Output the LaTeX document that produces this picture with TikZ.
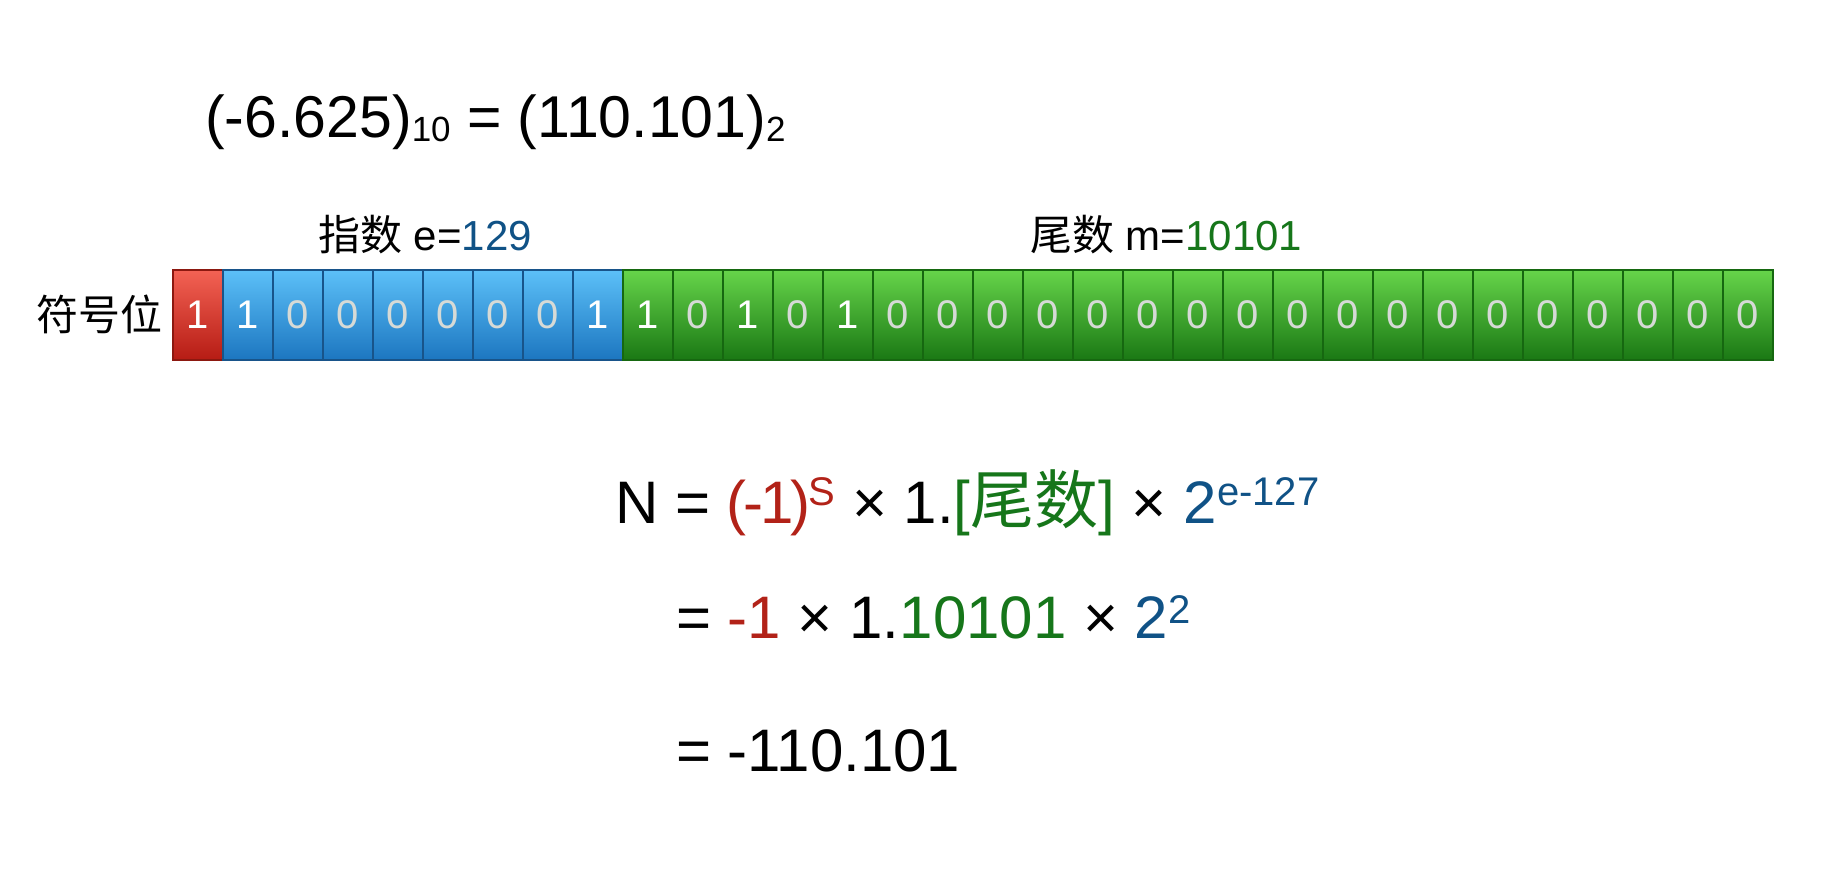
\documentclass[tikz,border=0pt]{standalone}
\usepackage{fontspec}
\setmainfont{Liberation Sans}
\newfontfamily\cjk{Noto Sans CJK SC}
\definecolor{sgnred}{RGB}{178,34,24}
\definecolor{mangreen}{RGB}{22,118,26}
\definecolor{expblue}{RGB}{16,82,134}
\definecolor{zerogray}{RGB}{214,218,214}
\newcommand\mysup[2][0.28em]{\raisebox{#1}{\fontsize{40}{48}\selectfont #2}}
\newcommand\mysub[1]{\raisebox{-0.08em}{\fontsize{35}{42}\selectfont #1}}
\tikzset{
  cellbox/.style={rectangle, minimum width=50pt, minimum height=90pt, inner sep=0pt, line width=1.2pt,
    font=\fontsize{40}{46}\selectfont},
  redcell/.style={cellbox, top color={rgb,255:red,243;green,98;blue,84}, bottom color={rgb,255:red,182;green,28;blue,20}, draw={rgb,255:red,140;green,24;blue,16}},
  bluecell/.style={cellbox, top color={rgb,255:red,92;green,192;blue,248}, bottom color={rgb,255:red,28;green,118;blue,192}, draw={rgb,255:red,24;green,84;blue,138}},
  greencell/.style={cellbox, top color={rgb,255:red,102;green,212;blue,74}, bottom color={rgb,255:red,26;green,120;blue,20}, draw={rgb,255:red,22;green,104;blue,16}},
  txt/.style={anchor=base west, inner sep=0pt},
}
\begin{document}
\begin{tikzpicture}[x=1pt,y=-1pt]
\useasboundingbox (0,0) rectangle (1836,878);
% title
\node[txt, font=\fontsize{59}{70}\selectfont] (title) at (205,137)
  {(-6.625)\mysub{10} = (110.101)\mysub{2}};
% field labels
\node[txt, font=\fontsize{42}{50}\selectfont] (explabel) at (318,250)
  {{\cjk 指数} e=\textcolor{expblue}{129}};
\node[txt, font=\fontsize{42}{50}\selectfont] (manlabel) at (1030,250)
  {{\cjk 尾数} m=\textcolor{mangreen}{10101}};
\node[anchor=east, inner sep=0pt, font=\cjk\fontsize{42}{50}\selectfont] (signlabel) at (163,314) {符号位};
% bits
\foreach \b [count=\i from 0] in {1,1,0,0,0,0,0,0,1,1,0,1,0,1,0,0,0,0,0,0,0,0,0,0,0,0,0,0,0,0,0,0}{
  \ifnum\i=0 \def\cs{redcell}\else\ifnum\i<9 \def\cs{bluecell}\else\def\cs{greencell}\fi\fi
  \ifnum\b=1 \def\tc{white}\else\def\tc{zerogray}\fi
  \node[\cs, text=\tc] (cell\i) at ({198+50*\i},315) {\b};
}
% formula
\node[txt, font=\fontsize{60}{72}\selectfont] (line1) at (615,523)
  {N = \textcolor{sgnred}{(\kern-0.06em-\kern-0.05em1\kern-0.06em)\kern-0.02em\mysup[0.3em]{S}} × 1.\textcolor{mangreen}{[{\cjk\fontsize{64}{72}\selectfont 尾数}]} × \textcolor{expblue}{2\mysup[0.3em]{e-127}}};
\node[txt, font=\fontsize{60}{72}\selectfont] (line2) at (676,638)
  {= \textcolor{sgnred}{-1} × 1.\textcolor{mangreen}{10101} × \textcolor{expblue}{2\mysup[0.24em]{2}}};
\node[txt, font=\fontsize{60}{72}\selectfont] (line3) at (676,771)
  {= -110.101};
\end{tikzpicture}
\end{document}
